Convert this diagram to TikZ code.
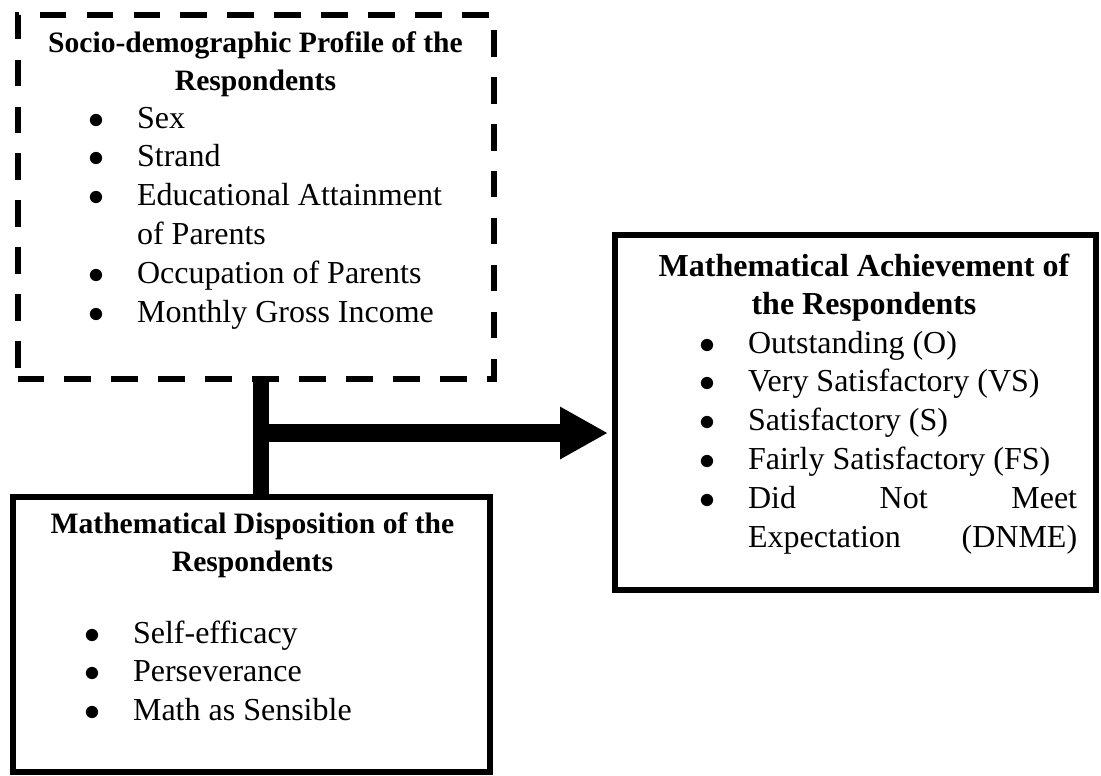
\documentclass[tikz,border=0pt]{standalone}
\usepackage{fontspec}
\setmainfont{Liberation Serif}
\usetikzlibrary{arrows.meta,positioning,calc}
\newcommand{\itm}{\makebox[18.4pt][l]{$\bullet$}}
\newcommand{\gap}{\hspace*{18.4pt}}

\begin{document}
\begin{tikzpicture}[
    x=0.375pt,y=-0.375pt,
    every node/.style={inner sep=0pt,outer sep=0pt},
    frame/.style={draw,line width=2.3pt},
    dashframe/.style={draw,line width=2.25pt,dash pattern=on 10pt off 7.6pt},
    heading/.style={font=\fontsize{#1}{13.9}\selectfont\bfseries,align=center,anchor=base},
    heading/.default=12,
    items/.style={font=\fontsize{12}{14.6}\selectfont,anchor=base west}
]
\useasboundingbox (0,0) rectangle (1101,775);

% Profile box
\node[dashframe,minimum width=178.5pt,minimum height=136.5pt] (socio) at (255.5,196.5) {};
\node[heading=11.1] (sociotitle) at (255.5,90) {Socio-demographic Profile of the\\Respondents};
\node[items] (sociolist) at (88,128) {\begin{tabular}[t]{@{}l@{}}
\itm Sex\\
\itm Strand\\
\itm Educational Attainment\\
\gap of Parents\\
\itm Occupation of Parents\\
\itm Monthly Gross Income
\end{tabular}};

% Achievement box
\node[frame,minimum width=180.4pt,minimum height=133.1pt] (achieve) at (855.5,412.5) {};
\node[heading] (achievetitle) at (864,314) {Mathematical Achievement of\\the Respondents};
\node[items] (achievelist) at (699,353) {\begin{tabular}[t]{@{}l@{}}
\itm Outstanding (O)\\
\itm Very Satisfactory (VS)\\
\itm Satisfactory (S)\\
\itm Fairly Satisfactory (FS)\\
\itm \makebox[123.4pt][s]{Did\hfill Not\hfill Meet}\\
\gap \makebox[123.4pt][s]{Expectation\hfill (DNME)}
\end{tabular}};

% Disposition box
\node[frame,minimum width=178.9pt,minimum height=103.1pt] (dispo) at (251.5,634.5) {};
\node[heading=11.1] (dispotitle) at (252.5,571) {Mathematical Disposition of the\\Respondents};
\node[items] (dispolist) at (84,643) {\begin{tabular}[t]{@{}l@{}}
\itm Self-efficacy\\
\itm Perseverance\\
\itm Math as Sensible
\end{tabular}};

% Connectors
\coordinate (joint) at (261,433);
\draw[line width=6pt] (socio.south -| joint) -- (dispo.north -| joint);
\draw[line width=6.4pt,-{Triangle[length=18pt,width=18.4pt]},shorten >=2.6pt] (joint) -- (achieve.west |- joint);

\end{tikzpicture}
\end{document}
